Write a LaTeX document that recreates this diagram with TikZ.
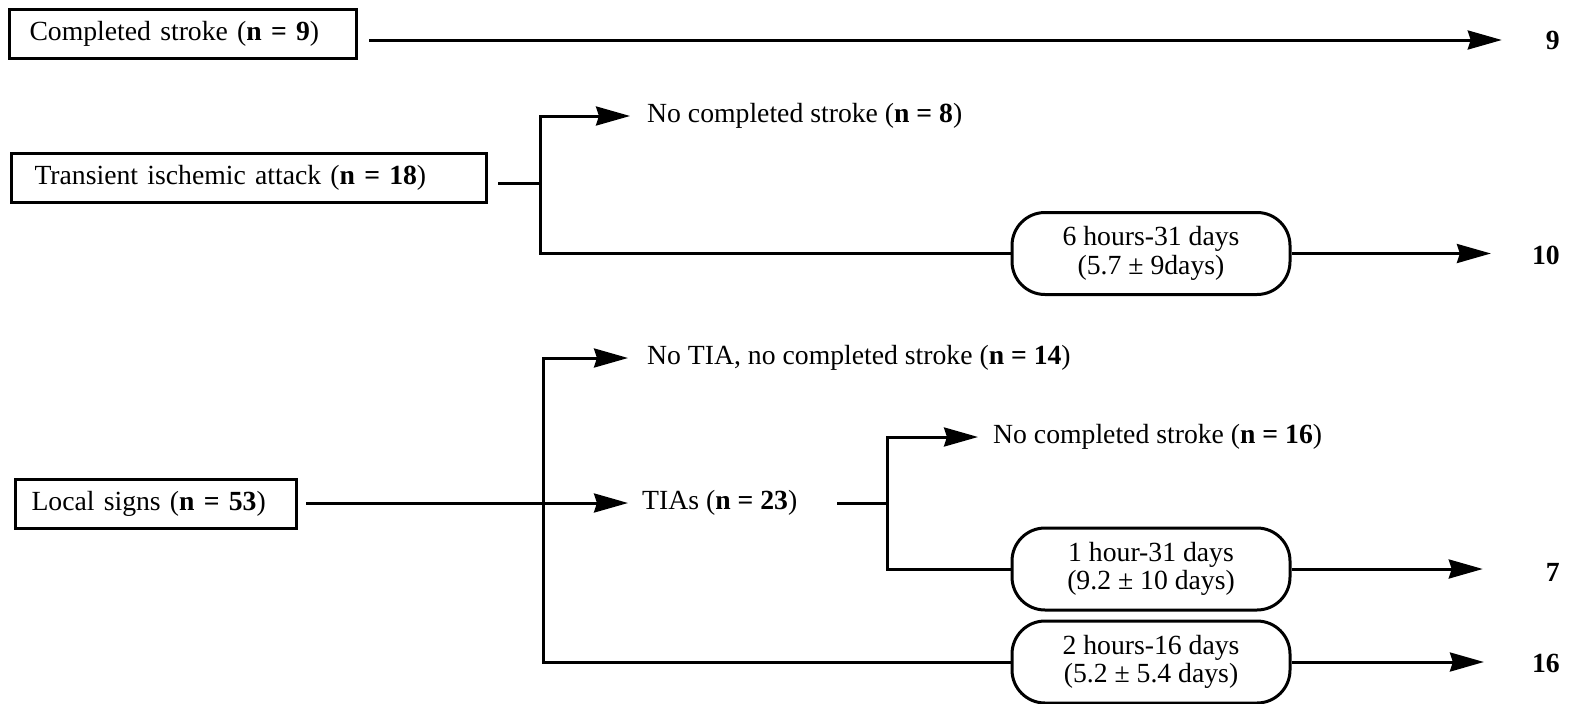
\documentclass[tikz,border=0pt]{standalone}
\usepackage{fontspec}
\setmainfont{Liberation Serif}
\usetikzlibrary{arrows.meta,calc}
\begin{document}
\begin{tikzpicture}[x=1pt,y=-1pt,
  every node/.style={font=\fontsize{27.7}{28.5}\selectfont},
  sbox/.style={draw, line width=3pt, anchor=west, minimum height=49pt, align=left, inner ysep=0pt},
  rbox/.style={draw, line width=3pt, rounded corners=33pt, minimum width=278pt, minimum height=82pt, align=center, inner sep=0pt},
  lbl/.style={anchor=west, inner sep=0pt},
  num/.style={anchor=east, inner sep=0pt, font=\fontsize{27.7}{28.5}\selectfont\bfseries},
  conn/.style={line width=3pt},
  arr/.style={conn, -{Stealth[length=34pt,width=19pt,inset=3pt]}}]
\useasboundingbox (0,0) rectangle (1574,704);

% Row 1
\node[sbox, text width=307pt, inner xsep=20pt] (cs) at (8,34) {Completed stroke (\textbf{n = 9})};
\node[num] (n9) at (1560,40) {9};
\draw[arr] ($(cs.east |- n9.west)+(11,0)$) -- ($(n9.west)+(-44,0)$);

% Row 2
\node[sbox, text width=429pt, inner xsep=23pt] (tia) at (10,178) {Transient ischemic attack (\textbf{n = 18})};
\coordinate (ja) at (540,183);
\node[lbl] (nc8) at (647,116) {No completed stroke (\textbf{n = 8})};
\node[rbox] (r1) at (1151,253.5) {6 hours-31 days\\(5.7 ± 9days)};
\node[num] (n10) at (1560,255) {10};
\draw[conn] ($(tia.east |- ja)+(10,0)$) -- (ja);
\draw[arr] (r1.west) -| (nc8.west -| ja) -- ($(nc8.west)+(-17,0)$);
\draw[arr] (r1.east) -- ($(n10.west |- r1.east)+(-41,0)$);

% Row 3
\node[sbox, text width=249pt, inner xsep=16pt] (ls) at (14,504) {Local signs (\textbf{n = 53})};
\coordinate (jb) at (543,503);
\node[lbl] (ntia) at (647,358) {No TIA, no completed stroke (\textbf{n = 14})};
\node[lbl] (tias) at (642,503) {TIAs (\textbf{n = 23})};
\coordinate (jc) at (887,503);
\node[lbl] (nc16) at (993,437) {No completed stroke (\textbf{n = 16})};
\node[rbox] (r2) at (1151,569) {1 hour-31 days\\(9.2 ± 10 days)};
\node[rbox] (r3) at (1151,662) {2 hours-16 days\\(5.2 ± 5.4 days)};
\node[num] (n7) at (1560,572) {7};
\node[num] (n16) at (1560,663) {16};

\draw[arr] ($(ls.east |- jb)+(8,0)$) -- ($(tias.west)+(-14,0)$);
\draw[arr] (r3.west) -| (ntia.west -| jb) -- ($(ntia.west)+(-19,0)$);
\draw[conn] ($(tias.east |- jc)+(40,0)$) -- (jc);
\draw[arr] (r2.west) -| (nc16.west -| jc) -- ($(nc16.west)+(-15,0)$);
\draw[arr] (r2.east) -- ($(n7.west |- r2.east)+(-63,0)$);
\draw[arr] (r3.east) -- ($(n16.west |- r3.east)+(-48,0)$);
\end{tikzpicture}
\end{document}
